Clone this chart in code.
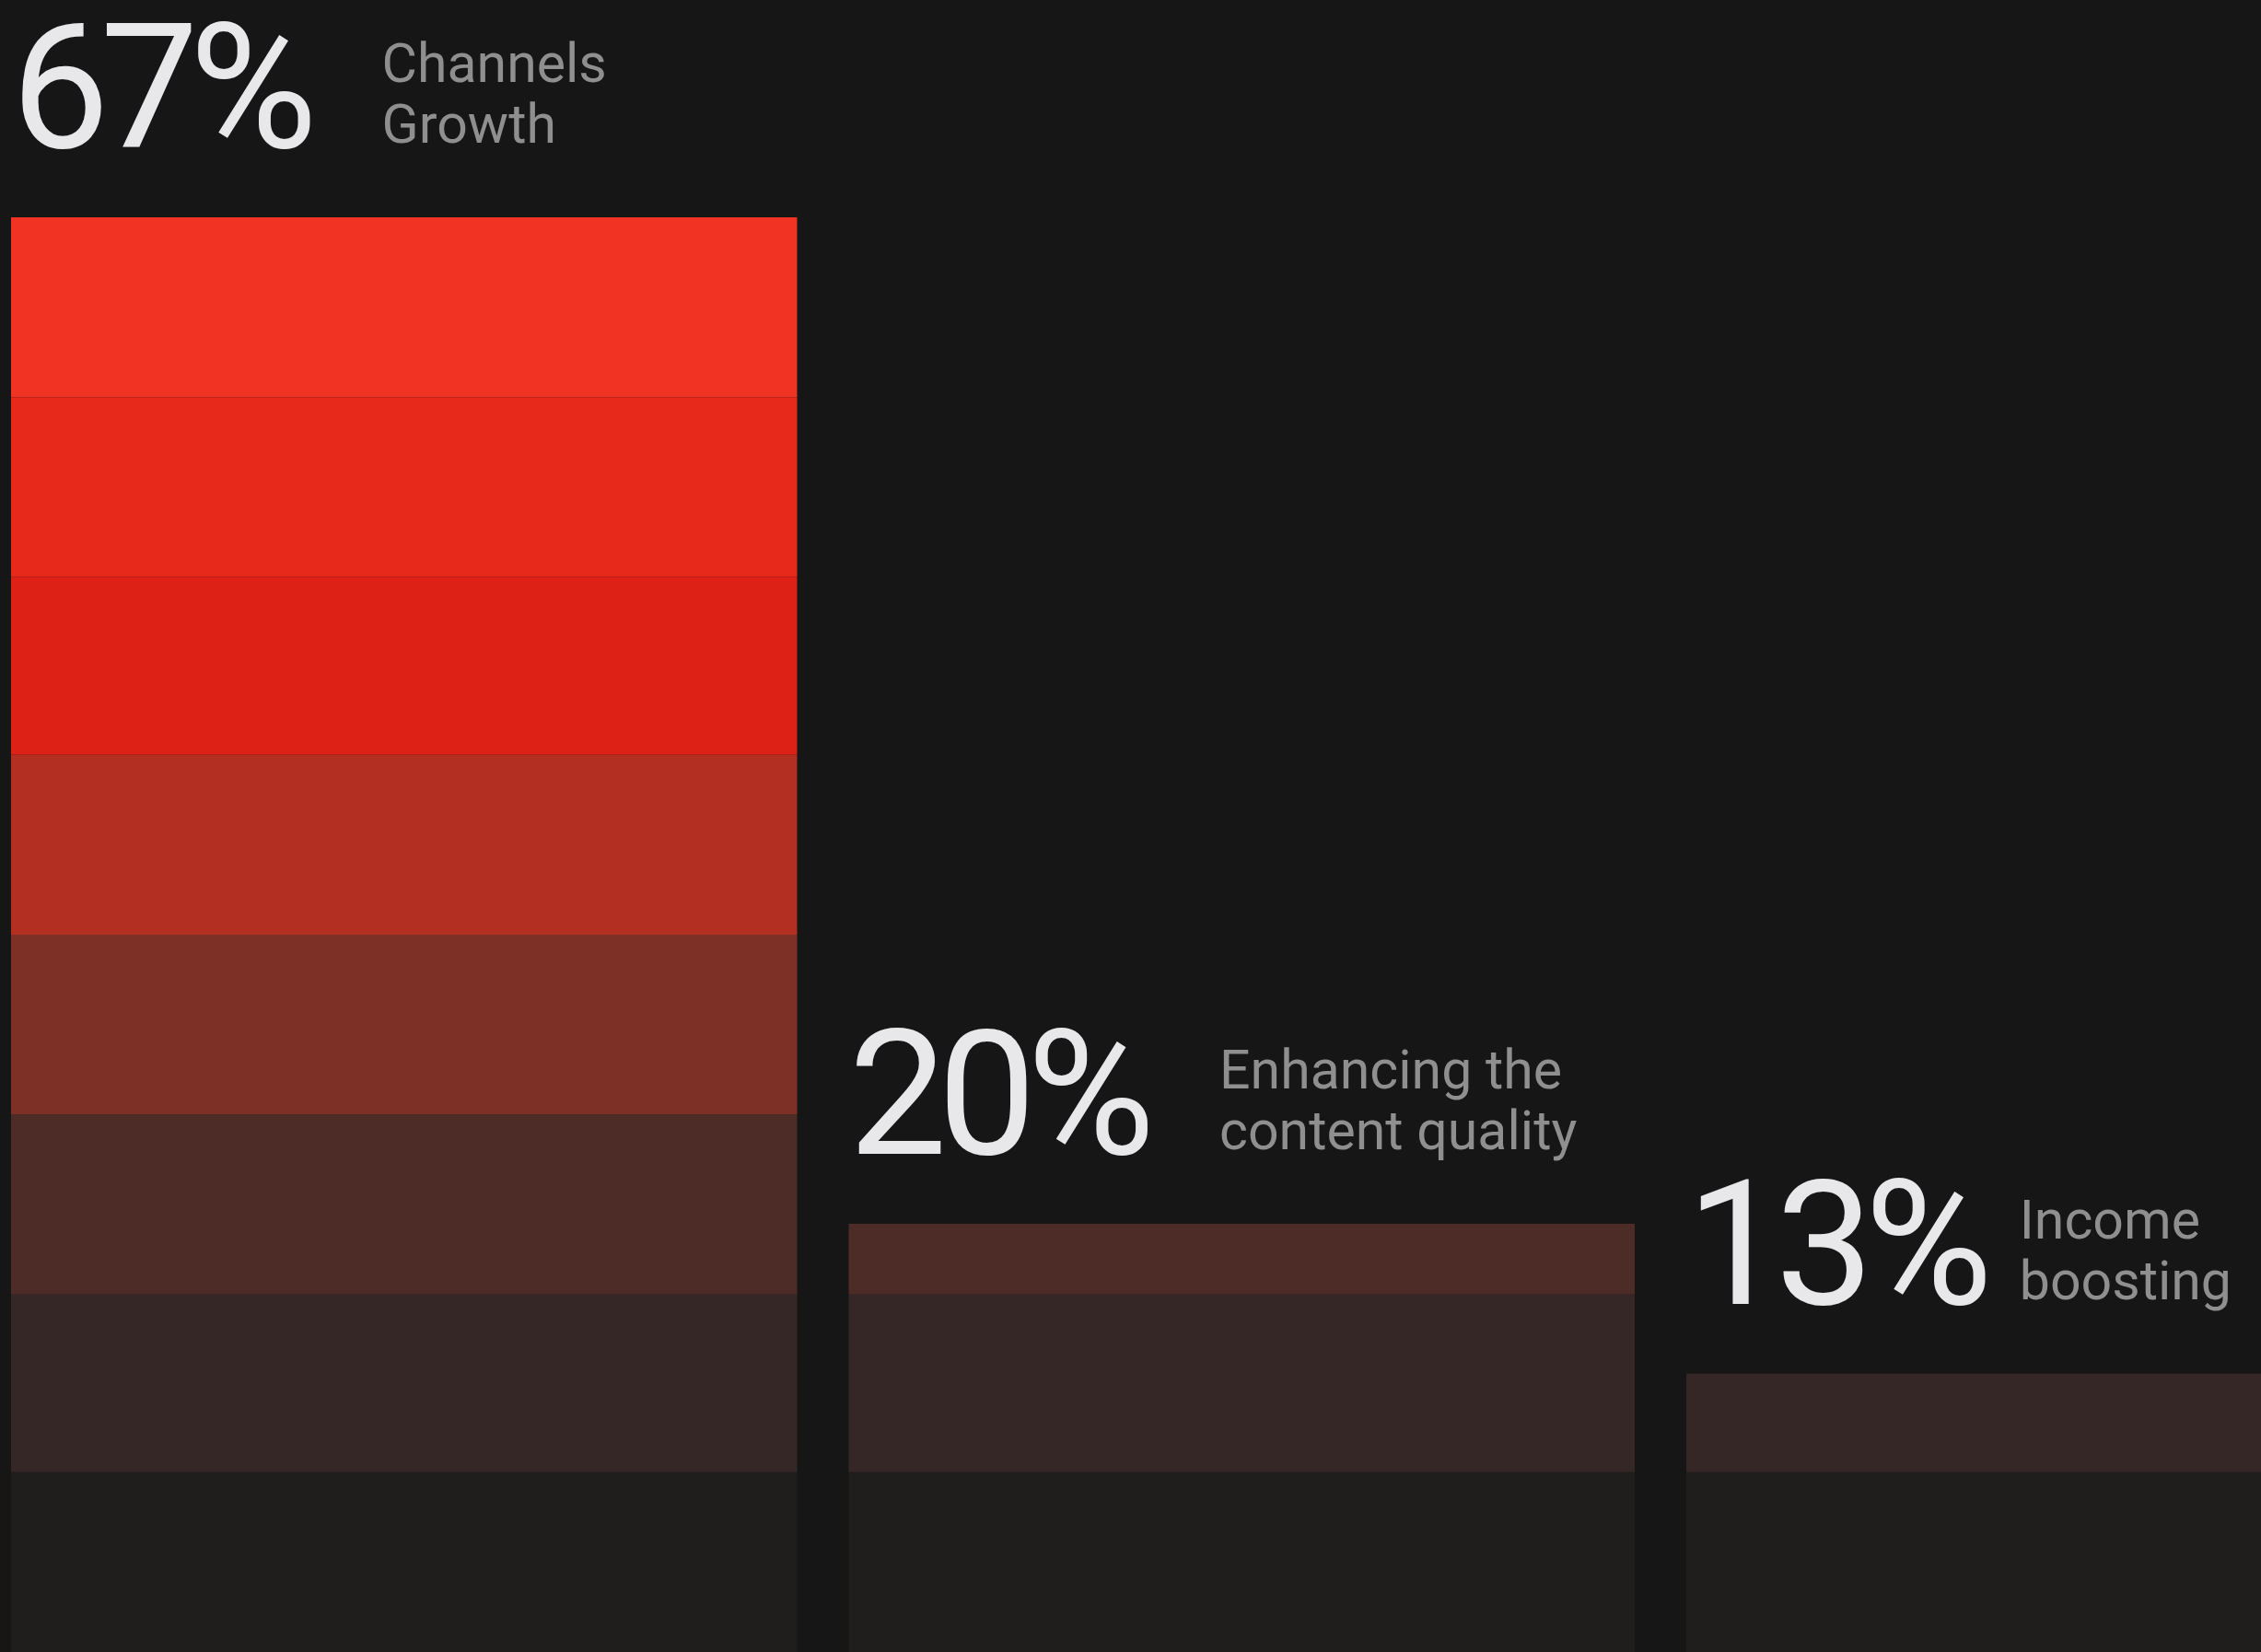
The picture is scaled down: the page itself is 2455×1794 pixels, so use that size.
<!DOCTYPE html>
<html>
<head>
<meta charset="utf-8">
<script src="https://cdn.jsdelivr.net/npm/d3@7"></script>
<style>
  html, body { margin: 0; padding: 0; background: #161616; }
  svg { display: block; }
</style>
</head>
<body>
<div id="chart"></div>
<script>
// data
const categories = ["Channels Growth", "Enhancing the content quality", "Income boosting"];
const values = [67, 20, 13];
const labelLines = [
  ["Channels", "Growth"],
  ["Enhancing the", "content quality"],
  ["Income", "boosting"]
];
// value breaks where the shade of the bars changes (bottom to top)
const bandBreaks = [0, 8.4, 16.7, 25.1, 33.5, 41.9, 50.2, 58.6, 67];
const bandColors = ["#1f1e1d", "#362727", "#4d2c28", "#7d3126", "#b22f21", "#dd2117", "#e7291c", "#f03323"];

const width = 2455;
const height = 1794;

const x = d3
  .scaleBand()
  .domain(categories)
  .range([12, 2684.5])
  .paddingInner(0.0616)
  .paddingOuter(0);

const y = d3
  .scaleLinear()
  .domain([0, 67])
  .range([height, 236]);

const svg = d3
  .select("#chart")
  .append("svg")
  .attr("width", width)
  .attr("height", height);

svg.append("rect")
  .attr("width", width)
  .attr("height", height)
  .attr("fill", "#161616");

const data = categories.map((c, i) => ({ cat: c, value: values[i], lines: labelLines[i] }));

// bars, split into horizontal shade bands
data.forEach((d) => {
  const g = svg.append("g").attr("class", "bar");
  bandColors.forEach((col, k) => {
    const lo = bandBreaks[k];
    const hi = Math.min(bandBreaks[k + 1], d.value);
    if (hi <= lo) return;
    g.append("rect")
      .attr("x", x(d.cat))
      .attr("y", y(hi))
      .attr("width", x.bandwidth())
      .attr("height", y(lo) - y(hi))
      .attr("fill", col);
  });
});

// big percentage numbers
const nums = svg
  .selectAll(".num")
  .data(data)
  .enter()
  .append("text")
  .attr("class", "num")
  .attr("x", (d) => x(d.cat))
  .attr("y", (d) => y(d.value) - 76)
  .style("font-family", "Roboto, sans-serif")
  .style("font-size", "190px")
  .style("font-weight", 400)
  .style("letter-spacing", "-10px")
  .style("fill", "#e8e8ea")
  .text((d) => d.value + "%");

// labels to the right of the numbers (kept inside the picture)
nums.each(function (d) {
  const bb = this.getBBox();
  const t = svg
    .append("text")
    .attr("class", "label")
    .attr("y", y(d.value) - 147)
    .style("font-family", "Roboto, sans-serif")
    .style("font-size", "59px")
    .style("font-weight", 400)
    .style("fill", "#8f8f8f");
  d.lines.forEach((line, i) => {
    t.append("tspan")
      .attr("x", 0)
      .attr("dy", i === 0 ? 0 : 66)
      .text(line);
  });
  const lw = t.node().getBBox().width;
  const lx = Math.min(bb.x + bb.width + 78, width - 32 - lw);
  t.selectAll("tspan").attr("x", lx);
});
</script>
</body>
</html>
